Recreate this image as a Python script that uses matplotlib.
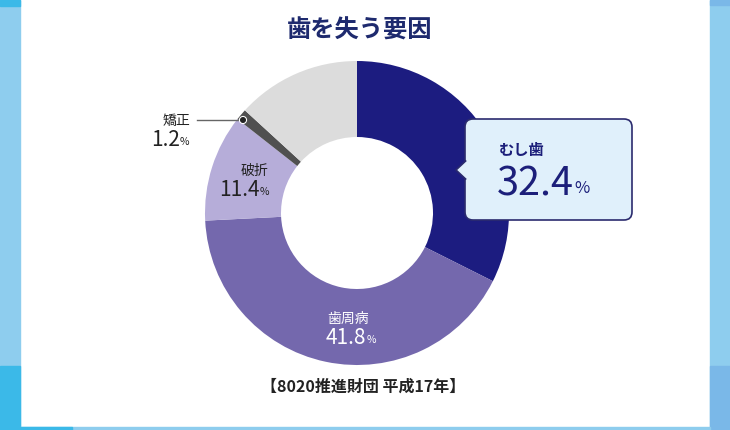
import matplotlib.pyplot as plt
from matplotlib.patches import Rectangle, FancyBboxPatch, Polygon, Circle

plt.rcParams['font.family'] = ['Noto Sans CJK JP', 'DejaVu Sans']

# データ (時計回り、上から)
labels = ['むし歯', '歯周病', '破折', '矯正', 'その他']
values = [32.4, 41.8, 11.4, 1.2, 13.2]
colors = ['#1c1c80', '#7468ad', '#b6add9', '#505050', '#dcdcdc']

title = '歯を失う要因'
source = '【8020推進財団 平成17年】'

W, H = 730, 430
fig = plt.figure(figsize=(W / 100, H / 100), dpi=100)
ax = fig.add_axes([0, 0, 1, 1])

def Y(y):
    # 画像座標(上が0)を描画座標へ
    return H - y

# 背景の帯
ax.add_patch(Rectangle((0, 0), W, H, color='white', zorder=0))
ax.add_patch(Rectangle((0, 0), 20, H, color='#8ecdee', zorder=1))
ax.add_patch(Rectangle((0, Y(6)), 20, 6, color='#3bb9e8', zorder=1))
ax.add_patch(Rectangle((0, 0), 20, Y(366), color='#3bb9e8', zorder=1))
ax.add_patch(Rectangle((710, 0), 20, H, color='#8ecdee', zorder=1))
ax.add_patch(Rectangle((710, Y(5)), 20, 5, color='#7ab8e8', zorder=1))
ax.add_patch(Rectangle((710, 0), 20, Y(366), color='#7ab8e8', zorder=1))
ax.add_patch(Rectangle((20, 0), 690, 3, color='#8ecdee', zorder=1))
ax.add_patch(Rectangle((0, 0), 72, 3, color='#3bb9e8', zorder=1))

# ドーナツ
cx, cy, r = 357, Y(213), 152
wedges, _ = ax.pie(values, colors=colors, startangle=90, counterclock=False,
                   center=(cx, cy), radius=r, frame=True,
                   wedgeprops=dict(width=r * 0.5, linewidth=0))

ax.set_xlim(0, W)
ax.set_ylim(0, H)
ax.set_aspect('equal')
ax.axis('off')

# タイトル
ax.text(360, Y(31), title, ha='center', va='center', fontsize=17.5,
        fontweight='bold', color='#1e2a6e')

def label(x, y, name, nx, num, color, numsize=15, namesize=10):
    ax.text(x, Y(y), name, ha='center', va='center', fontsize=namesize, color=color)
    t = ax.text(nx, Y(y + 19), num, ha='left', va='center', fontsize=numsize, color=color)
    ax.annotate('%', xy=(1, 0.18), xycoords=t, ha='left', va='bottom',
                fontsize=numsize * 0.5, color=color)

label(254, 171, '破折', 219, '11.4', '#222222')
label(348, 319, '歯周病', 326, '41.8', 'white')
label(176, 121, '矯正', 151, '1.2', '#222222')

# 矯正のリード線
ax.plot([197, 243], [Y(120), Y(120)], color='#666666', lw=1, zorder=5)
ax.add_patch(Circle((243, Y(120)), 3.4, color='white', zorder=6))
ax.add_patch(Circle((243, Y(120)), 2.3, color='#222222', zorder=7))

# むし歯の吹き出し
box = FancyBboxPatch((465, Y(220)), 167, 101, boxstyle='round,pad=0,rounding_size=8',
                     facecolor='#e0f0fb', edgecolor='#2b2b6e', linewidth=1.2, zorder=8)
ax.add_patch(box)
ax.add_patch(Polygon([(466, Y(161)), (456, Y(170)), (466, Y(179))], closed=True,
                     facecolor='#e0f0fb', edgecolor='none', zorder=9))
ax.plot([465.6, 456, 465.6], [Y(161), Y(170), Y(179)], color='#2b2b6e', lw=1.2, zorder=9)
ax.text(499, Y(150), 'むし歯', ha='left', va='center', fontsize=11,
        fontweight='bold', color='#1c1f7a', zorder=10)
t = ax.text(497, Y(185), '32.4', ha='left', va='center', fontsize=28.5,
            color='#1c1f7a', zorder=10)
ax.annotate('%', xy=(1, 0.2), xycoords=t, ha='left', va='bottom',
            fontsize=12, color='#1c1f7a', zorder=10)

# 出典
ax.text(363, Y(387), source, ha='center', va='center', fontsize=11.5,
        fontweight='bold', color='#222222')

fig.savefig('out.png', dpi=100)
